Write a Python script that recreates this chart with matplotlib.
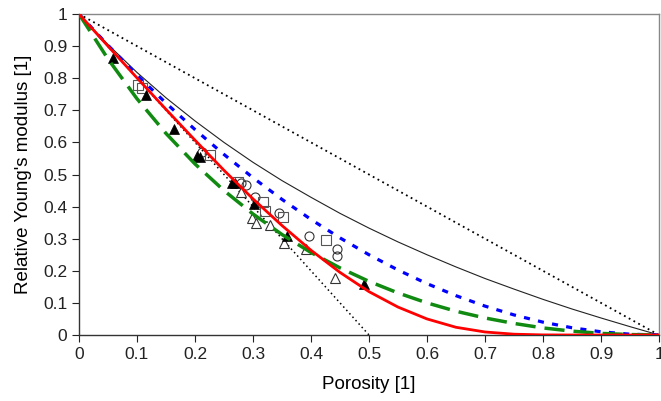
import matplotlib
matplotlib.use("Agg")
import matplotlib.pyplot as plt

plt.rcParams['font.family'] = ['Liberation Sans', 'DejaVu Sans']

# Model curves (at 0.05 steps of porosity)
porosity = [0.0, 0.05, 0.10, 0.15, 0.20, 0.25, 0.30, 0.35, 0.40, 0.45, 0.50,
            0.55, 0.60, 0.65, 0.70, 0.75, 0.80, 0.85, 0.90, 0.95, 1.0]
thin_black = [1.0, 0.905, 0.818, 0.739, 0.667, 0.600, 0.538, 0.481, 0.429, 0.379, 0.333,
              0.290, 0.250, 0.212, 0.176, 0.143, 0.111, 0.081, 0.053, 0.026, 0.0]
blue_short = [1.0, 0.9025, 0.81, 0.7225, 0.64, 0.5625, 0.49, 0.4225, 0.36, 0.3025, 0.25,
              0.2025, 0.16, 0.1225, 0.09, 0.0625, 0.04, 0.0225, 0.01, 0.0025, 0.0]
red_solid = [1.0, 0.900, 0.801, 0.703, 0.607, 0.513, 0.424, 0.341, 0.264, 0.195, 0.135,
             0.087, 0.050, 0.024, 0.0094, 0.0025, 0.0003, 0.0, 0.0, 0.0, 0.0]
green_long = [1.0, 0.860, 0.736, 0.628, 0.533, 0.450, 0.377, 0.313, 0.257, 0.209, 0.167,
              0.131, 0.100, 0.074, 0.053, 0.036, 0.022, 0.012, 0.005, 0.0013, 0.0]
linear_x = [0.0, 1.0]
linear_y = [1.0, 0.0]
steep_x = [0.0, 0.5]
steep_y = [1.0, 0.0]

# Measured data points
filled_tri_x = [0.059, 0.116, 0.164, 0.203, 0.209, 0.263, 0.269, 0.302, 0.358, 0.491]
filled_tri_y = [0.862, 0.748, 0.643, 0.557, 0.556, 0.474, 0.474, 0.407, 0.308, 0.159]
open_tri_x = [0.280, 0.299, 0.305, 0.329, 0.353, 0.391, 0.441]
open_tri_y = [0.444, 0.363, 0.349, 0.344, 0.286, 0.267, 0.179]
circle_x = [0.212, 0.280, 0.288, 0.304, 0.345, 0.397, 0.445, 0.445]
circle_y = [0.571, 0.473, 0.467, 0.430, 0.381, 0.308, 0.268, 0.246]
square_x = [0.102, 0.108, 0.226, 0.274, 0.318, 0.321, 0.351, 0.426]
square_y = [0.778, 0.771, 0.561, 0.478, 0.415, 0.385, 0.368, 0.297]

xticks = [0, 0.1, 0.2, 0.3, 0.4, 0.5, 0.6, 0.7, 0.8, 0.9, 1]
xtick_labels = ['0', '0.1', '0.2', '0.3', '0.4', '0.5', '0.6', '0.7', '0.8', '0.9', '1']
yticks = [0, 0.1, 0.2, 0.3, 0.4, 0.5, 0.6, 0.7, 0.8, 0.9, 1]
ytick_labels = ['0', '0.1', '0.2', '0.3', '0.4', '0.5', '0.6', '0.7', '0.8', '0.9', '1']

fig = plt.figure(figsize=(6.61, 4.01), dpi=100)
ax = fig.add_axes([0.1195, 0.1646, 0.8775, 0.8004])

ax.plot(linear_x, linear_y, color='black', linestyle=(0, (1, 2)), lw=1.3, zorder=2)
ax.plot(steep_x, steep_y, color='black', linestyle=(0, (1, 2)), lw=1.1, zorder=2)
ax.plot(porosity, thin_black, color='#222222', lw=0.8, zorder=2)

mk = dict(linestyle='none', markersize=6.5, zorder=3)
ax.plot(open_tri_x, open_tri_y, marker='^', markerfacecolor='white',
        markeredgecolor='#333333', markeredgewidth=0.8, **mk)
ax.plot(circle_x, circle_y, marker='o', markerfacecolor='none',
        markeredgecolor='#333333', markeredgewidth=0.8, **mk)
ax.plot(square_x, square_y, marker='s', markerfacecolor='none',
        markeredgecolor='#555555', markeredgewidth=0.8, **mk)
ax.plot(filled_tri_x, filled_tri_y, marker='^', markerfacecolor='black',
        markeredgecolor='black', markeredgewidth=0.5, **mk)

ax.plot(porosity, blue_short, color='#0000ff', lw=2.3, dashes=(1.9, 2.6), zorder=4)
ax.plot(porosity, green_long, color='#108a10', lw=2.5, dashes=(5.8, 2.6), zorder=4)
ax.plot(porosity, red_solid, color='#ff0000', lw=2.0, zorder=5)

ax.set_xlim(0, 1)
ax.set_ylim(0, 1)
ax.set_xticks(xticks)
ax.set_xticklabels(xtick_labels)
ax.set_yticks(yticks)
ax.set_yticklabels(ytick_labels)
ax.tick_params(direction='out', length=5, width=0.8, labelsize=12.5, colors='#222222')
ax.set_xlabel('Porosity [1]', fontsize=13.5, labelpad=10)
ax.set_ylabel("Relative Young's modulus [1]", fontsize=13.5, labelpad=8)

for s in ['left', 'bottom']:
    ax.spines[s].set_color('#333333')
    ax.spines[s].set_linewidth(1.0)
for s in ['top', 'right']:
    ax.spines[s].set_color('#888888')
    ax.spines[s].set_linewidth(1.0)

fig.savefig('out.png', dpi=100)
